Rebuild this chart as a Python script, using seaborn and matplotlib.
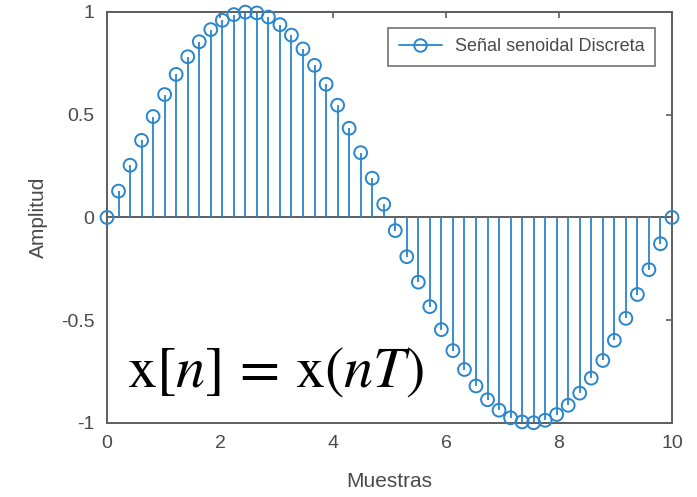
import numpy as np
import pandas as pd
import matplotlib
matplotlib.use('Agg')
import matplotlib.pyplot as plt
from matplotlib.lines import Line2D
import seaborn as sns

# sample positions (50 samples between 0 and 10) and amplitudes
muestras = [0.000, 0.204, 0.408, 0.612, 0.816, 1.020, 1.224, 1.429, 1.633, 1.837,
            2.041, 2.245, 2.449, 2.653, 2.857, 3.061, 3.265, 3.469, 3.673, 3.878,
            4.082, 4.286, 4.490, 4.694, 4.898, 5.102, 5.306, 5.510, 5.714, 5.918,
            6.122, 6.327, 6.531, 6.735, 6.939, 7.143, 7.347, 7.551, 7.755, 7.959,
            8.163, 8.367, 8.571, 8.776, 8.980, 9.184, 9.388, 9.592, 9.796, 10.000]
amplitud = [0.000, 0.128, 0.254, 0.375, 0.491, 0.598, 0.696, 0.782, 0.855, 0.914,
            0.959, 0.987, 0.999, 0.995, 0.975, 0.938, 0.887, 0.820, 0.740, 0.648,
            0.546, 0.434, 0.315, 0.191, 0.064, -0.064, -0.191, -0.315, -0.434, -0.546,
            -0.648, -0.740, -0.820, -0.887, -0.938, -0.975, -0.995, -0.999, -0.987, -0.959,
            -0.914, -0.855, -0.782, -0.696, -0.598, -0.491, -0.375, -0.254, -0.128, 0.000]
xticks = [0, 2, 4, 6, 8, 10]
yticks = [-1, -0.5, 0, 0.5, 1]
ytick_labels = ['-1', '-0.5', '0', '0.5', '1']

df = pd.DataFrame({'Muestras': muestras, 'Amplitud': amplitud})

sns.set_theme(style='white')
plt.rcParams['font.family'] = ['Liberation Sans', 'DejaVu Sans']
plt.rcParams['mathtext.fontset'] = 'stix'

blue = '#2a86cc'
gray = '#5e5e5e'
text_gray = '#4a4a4a'

fig = plt.figure(figsize=(6.97, 4.97), dpi=100)
ax = fig.add_axes([0.1535, 0.149, 0.8106, 0.827])

ax.axhline(0, color=gray, lw=1.4, zorder=1)
ax.vlines(df['Muestras'], 0, df['Amplitud'], color=blue, lw=1.3, zorder=2)
sns.scatterplot(data=df, x='Muestras', y='Amplitud', ax=ax, marker='o', s=85,
                facecolor='none', edgecolor=blue, linewidth=1.4, zorder=3,
                clip_on=False)

ax.set_xlim(0, 10)
ax.set_ylim(-1, 1)
ax.set_xticks(xticks)
ax.set_yticks(yticks)
ax.set_yticklabels(ytick_labels)
ax.tick_params(direction='in', length=4, width=1.2, colors=gray, labelcolor=text_gray,
               labelsize=14, top=True, right=True, pad=9)
for s in ax.spines.values():
    s.set_color(gray)
    s.set_linewidth(1.4)
ax.set_xlabel('Muestras', fontsize=15, color=text_gray, labelpad=14)
ax.set_ylabel('Amplitud', fontsize=15, color=text_gray, labelpad=9)

handle = Line2D([], [], color=blue, lw=1.3, marker='o', markersize=9,
                markerfacecolor='none', markeredgewidth=1.4, markevery=[1])
leg = ax.legend([handle], ['Señal senoidal Discreta'], loc='upper right',
                bbox_to_anchor=(0.970, 0.962), borderaxespad=0, fontsize=13,
                frameon=True, fancybox=False, edgecolor=gray, handlelength=2.4,
                borderpad=0.6, handletextpad=0.7)
leg.get_frame().set_linewidth(1.3)
for t in leg.get_texts():
    t.set_color(text_gray)

fig.text(127 / 697, 1 - 387 / 497, r'$\mathrm{x}[n]\,=\,\mathrm{x}(nT)$',
         fontsize=42, color='black', va='baseline', ha='left')

fig.savefig('out.png', dpi=100)
